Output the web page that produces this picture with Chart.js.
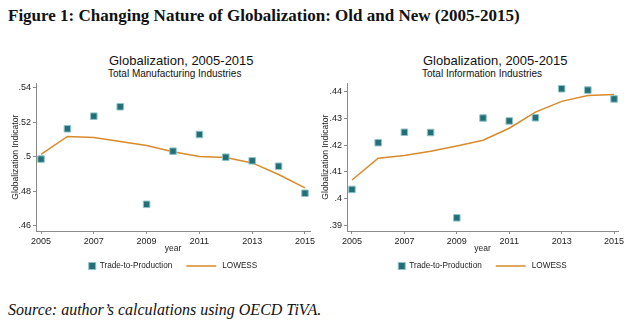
<!DOCTYPE html>
<html>
<head>
<meta charset="utf-8">
<script src="https://cdn.jsdelivr.net/npm/chart.js@4.4.1/dist/chart.umd.min.js"></script>
<style>
  body { margin: 0; background: #fff; }
  #page { position: relative; width: 640px; height: 328px; overflow: hidden; font-family: 'Liberation Sans', Arial, sans-serif; color: #222; }
  .abs { position: absolute; white-space: nowrap; }
  #fig { left: 8px; top: 6px; font-family: 'Liberation Serif', serif; font-weight: bold; font-size: 17px; color: #111; }
  .ttl { font-size: 13px; line-height: 15px; color: #111; }
  .sub { font-size: 10px; line-height: 12px; color: #111; }
  #src { left: 8px; top: 301px; font-family: 'Liberation Serif', serif; font-style: italic; font-size: 16px; color: #111; }
  canvas { position: absolute; }
</style>
</head>
<body>
<div id="page">
  <div id="fig" class="abs">Figure 1: Changing Nature of Globalization: Old and New (2005-2015)</div>
  <div class="abs ttl" style="left:109px; top:53px;">Globalization, 2005-2015</div>
  <div class="abs sub" style="left:108px; top:68px;">Total Manufacturing Industries</div>
  <div class="abs ttl" style="left:423px; top:53px;">Globalization, 2005-2015</div>
  <div class="abs sub" style="left:422px; top:68px;">Total Information Industries</div>
  <canvas id="manufChart" width="330" height="200" style="left:0px; top:76px;"></canvas>
  <canvas id="infoChart" width="320" height="200" style="left:320px; top:76px;"></canvas>
  <div id="src" class="abs">Source: author’s calculations using OECD TiVA.</div>
</div>
<script>
var years = [2005, 2006, 2007, 2008, 2009, 2010, 2011, 2012, 2013, 2014, 2015];
var yearTicks = [2005, 2007, 2009, 2011, 2013, 2015];

// Total Manufacturing Industries
var manufTrade = [0.4986, 0.5161, 0.5234, 0.5288, 0.4725, 0.5032, 0.5128, 0.4997, 0.4976, 0.4945, 0.4789];
var manufLowess = [0.5013, 0.5117, 0.5111, 0.5088, 0.5065, 0.5028, 0.5001, 0.4995, 0.4964, 0.4897, 0.4820];
var manufTicks = [0.46, 0.48, 0.50, 0.52, 0.54];

// Total Information Industries
var infoTrade = [0.4035, 0.4209, 0.4248, 0.4247, 0.3929, 0.4301, 0.4290, 0.4302, 0.4410, 0.4405, 0.4372];
var infoLowess = [0.4070, 0.4151, 0.4161, 0.4177, 0.4197, 0.4218, 0.4263, 0.4323, 0.4363, 0.4385, 0.4389];
var infoTicks = [0.39, 0.40, 0.41, 0.42, 0.43, 0.44];

var seriesNames = ['Trade-to-Production', 'LOWESS'];

var teal = '#226f77';
var orange = '#d98a2a';
var axisGray = '#8a8a8a';

Chart.defaults.font.family = "'Liberation Sans', Arial, sans-serif";
Chart.defaults.color = '#222';

function toPoints(vals) {
    return years.map(function (y, i) { return { x: y, y: vals[i] }; });
}

// legend drawn under the plot, centred on the chart area
var statLegend = {
    id: 'statLegend',
    afterDraw: function (chart) {
        var ctx = chart.ctx;
        var area = chart.chartArea;
        var y = chart.height - 10;
        ctx.save();
        ctx.font = "8.2px 'Liberation Sans', Arial, sans-serif";
        var w1 = ctx.measureText(seriesNames[0]).width;
        var w2 = ctx.measureText(seriesNames[1]).width;
        var total = 7 + 4 + w1 + 14 + 30 + 6 + w2;
        var x = (area.left + area.right) / 2 - total / 2;
        ctx.fillStyle = teal;
        ctx.strokeStyle = '#8fc4c8';
        ctx.lineWidth = 1;
        ctx.fillRect(x, y - 3.5, 7, 7);
        ctx.strokeRect(x, y - 3.5, 7, 7);
        x += 11;
        ctx.fillStyle = '#222';
        ctx.textBaseline = 'middle';
        ctx.fillText(seriesNames[0], x, y);
        x += w1 + 14;
        ctx.strokeStyle = orange;
        ctx.lineWidth = 1.5;
        ctx.beginPath();
        ctx.moveTo(x, y);
        ctx.lineTo(x + 30, y);
        ctx.stroke();
        x += 36;
        ctx.fillText(seriesNames[1], x, y);
        ctx.restore();
    }
};

function makeChart(canvasId, trade, lowess, yTicks, yMin, yMax, xMax, yAxisWidth, titlePad, rightPad) {
    var ctx = document.getElementById(canvasId).getContext('2d');
    return new Chart(ctx, {
        type: 'scatter',
        data: {
            datasets: [{
                label: seriesNames[0],
                data: toPoints(trade),
                pointStyle: 'rect',
                pointRadius: 4.6,
                backgroundColor: teal,
                borderColor: '#8fc4c8',
                borderWidth: 1,
                order: 1
            }, {
                label: seriesNames[1],
                type: 'line',
                data: toPoints(lowess),
                borderColor: orange,
                borderWidth: 1.5,
                pointRadius: 0,
                tension: 0,
                fill: false,
                order: 2
            }]
        },
        options: {
            responsive: false,
            animation: false,
            layout: { padding: { top: 7, right: rightPad, bottom: 16, left: 0 } },
            plugins: { legend: { display: false }, tooltip: { enabled: false } },
            scales: {
                x: {
                    type: 'linear',
                    min: 2004.81,
                    max: xMax,
                    afterBuildTicks: function (scale) {
                        scale.ticks = yearTicks.map(function (v) { return { value: v }; });
                    },
                    afterFit: function (scale) { scale.height = 29; },
                    ticks: {
                        autoSkip: false,
                        maxRotation: 0,
                        padding: 2,
                        font: { size: 9 },
                        callback: function (value) { return String(value); }
                    },
                    grid: { drawOnChartArea: false, drawTicks: true, tickLength: 3, color: axisGray },
                    border: { display: true, color: axisGray },
                    title: { display: true, text: 'year', font: { size: 8.5 }, padding: { top: 0, bottom: 6 } }
                },
                y: {
                    min: yMin,
                    max: yMax,
                    afterBuildTicks: function (scale) {
                        scale.ticks = yTicks.map(function (v) { return { value: v }; });
                    },
                    afterFit: function (scale) { scale.width = yAxisWidth; },
                    ticks: {
                        autoSkip: false,
                        padding: 2,
                        font: { size: 9 },
                        callback: function (value) { return String(Math.round(value * 100) / 100).replace(/^0/, ''); }
                    },
                    grid: { drawOnChartArea: false, drawTicks: true, tickLength: 3, color: axisGray },
                    border: { display: true, color: axisGray },
                    title: { display: true, text: 'Globalization Indicator', font: { size: 8.6 }, padding: { top: titlePad, bottom: 0 } }
                }
            }
        },
        plugins: [statLegend]
    });
}

document.addEventListener('DOMContentLoaded', function () {
    makeChart('manufChart', manufTrade, manufLowess, manufTicks, 0.4571, 0.5423, 2015.19, 36, 10, 20);
    makeChart('infoChart', infoTrade, infoLowess, infoTicks, 0.3880, 0.4430, 2015.15, 27, 0, 22);
});
</script>
</body>
</html>
